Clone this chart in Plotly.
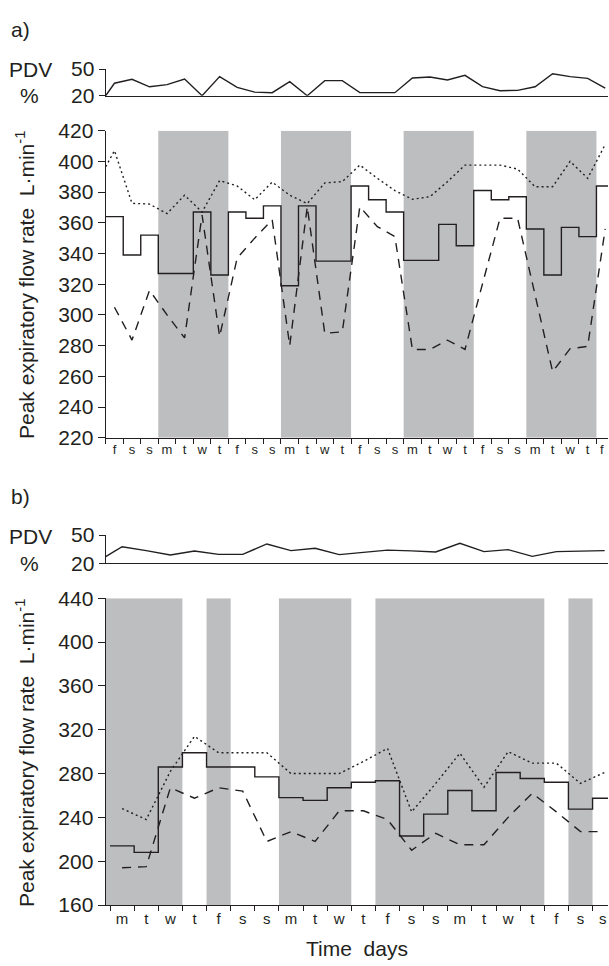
import plotly.graph_objects as go

# ---------------- DATA ----------------
# Panel a
a_days = ['f', 's', 's', 'm', 't', 'w', 't'] * 4 + ['f']
a_mean = [364, 339, 352, 327, 327, 367, 326, 367, 363, 371, 319, 371, 335, 335, 384,
          375, 367, 335.5, 335.5, 359, 345, 381, 375, 377, 356, 326, 357, 351, 384]
a_max = [407, 372.7, 372.2, 366, 378, 367, 387.5, 384, 375, 386.5, 378, 372.5, 386, 386.8, 397.6,
         389, 381, 375.3, 377, 386.8, 397.6, 397.6, 397.6, 395, 383.5, 383.5, 400, 389, 411]
a_max_edge = 396.5
a_min = [305, 283.6, 316, 300, 285, 365, 286, 337, 350, 362, 280, 370.5, 288, 289, 370.5,
         357.5, 351, 277.5, 277.5, 283.5, 277.5, 321, 363, 363, 313, 263, 278, 279.5, 356]
a_pdv = [34, 38.4, 30, 32.5, 38.7, 20, 41.4, 29.4, 24, 23.4, 35.7, 20, 36.9, 36.9, 23.4,
         23.4, 23.4, 39.9, 41, 37.6, 42.9, 30.1, 25.6, 26, 30, 44.7, 41.4, 39.5, 28.6]
a_pdv_edge = 20
a_shade = [(3, 7), (10, 14), (17, 21), (24, 28)]
a_xrange = [0, 28.66]
a_yticks = list(range(220, 421, 20))

# Panel b
b_days = ['m', 't', 'w', 't', 'f', 's', 's'] * 3
b_mean = [214, 208, 286, 299, 286, 286, 277, 258, 255.5, 267, 272, 273.5, 223, 243, 264.5,
          246, 281, 275.5, 272, 247.5, 257.5]
b_max = [248, 238, 282, 314, 299, 299, 299, 280, 280, 280, 291, 303, 245, 271, 298.5,
         267.5, 300, 289.5, 289.5, 271, 281]
b_min = [194, 195, 267, 257.5, 267, 264, 218, 227, 218, 246, 246, 238, 210, 225.5, 215,
         215, 240, 262, 245, 227, 227]
b_pdv = [37.6, 33.4, 28.8, 33, 29.5, 29.5, 40.5, 33.4, 36, 29.2, 31.7, 34, 33.2, 32, 41.2,
         32.4, 34.5, 27.4, 32.4, 32.7, 33.4]
b_pdv_edge = 27
b_xrange = [-0.18, 20.64]
b_shade = [(b_xrange[0], 3), (4, 5), (7, 10), (11, 18), (19, 20)]
b_yticks = list(range(160, 441, 40))

pdv_ticks = [20, 50]

# ---------------- STYLE ----------------
W, H = 609, 966
INK = '#231f20'
GRAY = '#bdbec0'
FONT = 'Liberation Sans, Arial, Helvetica, sans-serif'
LW = 1.4


def px_x(p):
    return p / W


def px_y(p):
    return 1 - p / H


xdom = [px_x(105.7), px_x(608)]

fig = go.Figure()


def add_panel(days, mean, vmax, vmin, pdv, pdv_edge, xr, suffix_main, suffix_pdv,
              max_edge=None):
    n = len(days)
    centers = [k + 0.5 for k in range(n)]
    xa = 'x' + suffix_main
    ya = 'y' + suffix_main
    xp = 'x' + suffix_pdv
    yp = 'y' + suffix_pdv
    fig.add_trace(go.Scatter(x=list(range(n + 1)), y=mean + [mean[-1]], mode='lines',
                             line=dict(color=INK, width=LW, shape='hv'),
                             xaxis=xa, yaxis=ya, showlegend=False, hoverinfo='skip'))
    mx_x = centers
    mx_y = vmax
    if max_edge is not None:
        mx_x = [xr[0]] + centers
        mx_y = [max_edge] + vmax
    fig.add_trace(go.Scatter(x=mx_x, y=mx_y, mode='lines',
                             line=dict(color=INK, width=LW, dash='2px,3px'),
                             xaxis=xa, yaxis=ya, showlegend=False, hoverinfo='skip'))
    fig.add_trace(go.Scatter(x=centers, y=vmin, mode='lines',
                             line=dict(color=INK, width=LW, dash='9px,7px'),
                             xaxis=xa, yaxis=ya, showlegend=False, hoverinfo='skip'))
    fig.add_trace(go.Scatter(x=[xr[0]] + centers, y=[pdv_edge] + pdv, mode='lines',
                             line=dict(color=INK, width=LW),
                             xaxis=xp, yaxis=yp, showlegend=False, hoverinfo='skip'))


add_panel(a_days, a_mean, a_max, a_min, a_pdv, a_pdv_edge, a_xrange, '', '2', max_edge=a_max_edge)
add_panel(b_days, b_mean, b_max, b_min, b_pdv, b_pdv_edge, b_xrange, '3', '4')

shapes = []
for x0, x1 in a_shade:
    shapes.append(dict(type='rect', xref='x', yref='y', x0=x0, x1=x1,
                       y0=a_yticks[0], y1=a_yticks[-1], fillcolor=GRAY, line_width=0, layer='below'))
for x0, x1 in b_shade:
    shapes.append(dict(type='rect', xref='x3', yref='y3', x0=x0, x1=x1,
                       y0=b_yticks[0], y1=b_yticks[-1], fillcolor=GRAY, line_width=0, layer='below'))

axis_common = dict(showgrid=False, zeroline=False, showline=True, linecolor=INK, linewidth=1.3,
                   tickcolor=INK, tickwidth=1.2, fixedrange=True, automargin=False)


def day_xaxis(days, xr, dom, anchor, size, edge_pad):
    n = len(days)
    label_pos = [min(k + 0.5, xr[1] - edge_pad) for k in range(n)]
    return dict(axis_common, domain=dom, range=xr, anchor=anchor,
                tickmode='array', tickvals=label_pos, ticktext=days,
                ticks='', tickfont=dict(family=FONT, size=size, color=INK),
                minor=dict(tickmode='array', tickvals=list(range(n)), ticks='outside',
                           ticklen=5, tickcolor=INK, tickwidth=1.2))


def val_yaxis(ticks, dom, anchor, ticklen=7):
    return dict(axis_common, domain=dom, range=[ticks[0], ticks[-1]], anchor=anchor,
                tickmode='array', tickvals=ticks, ticks='outside', ticklen=ticklen,
                tickfont=dict(family=FONT, size=21, color=INK))


def pdv_xaxis(xr, dom, anchor):
    return dict(axis_common, domain=dom, range=xr, anchor=anchor, showticklabels=False, ticks='')


fig.update_layout(
    template='none',
    width=W, height=H, margin=dict(l=0, r=0, t=0, b=0, pad=0, autoexpand=False),
    paper_bgcolor='white', plot_bgcolor='rgba(0,0,0,0)',
    font=dict(family=FONT, color=INK),
    xaxis=day_xaxis(a_days, a_xrange, xdom, 'y', 13, 0.35),
    yaxis=val_yaxis(a_yticks, [px_y(437.7), px_y(130.7)], 'x'),
    xaxis2=pdv_xaxis(a_xrange, xdom, 'y2'),
    yaxis2=val_yaxis(pdv_ticks, [px_y(95.7), px_y(69)], 'x2', ticklen=6),
    xaxis3=day_xaxis(b_days, b_xrange, xdom, 'y3', 15, 0.22),
    yaxis3=val_yaxis(b_yticks, [px_y(905), px_y(598.3)], 'x3'),
    xaxis4=pdv_xaxis(b_xrange, xdom, 'y4'),
    yaxis4=val_yaxis(pdv_ticks, [px_y(563.3), px_y(535)], 'x4', ticklen=6),
    shapes=shapes,
)

ann = []


def txt(text, x, y, size=21, angle=0, xanchor='center'):
    ann.append(dict(text=text, x=px_x(x), y=px_y(y), xref='paper', yref='paper',
                    showarrow=False, xanchor=xanchor, yanchor='middle', textangle=angle,
                    font=dict(family=FONT, size=size, color=INK)))


ylab = 'Peak expiratory flow rate  L·min<sup>-1</sup>'
txt('a)', 9, 30, xanchor='left')
txt('PDV', 30, 70)
txt('%', 29, 96)
txt(ylab, 25, 285, angle=-90)
txt('b)', 9, 496, xanchor='left')
txt('PDV', 30, 536)
txt('%', 29, 563)
txt(ylab, 25, 753, angle=-90)
txt('Time  days', 357, 948)
fig.update_layout(annotations=ann)

fig.write_html('out.html', config={'displayModeBar': False},
               post_script="document.body.style.margin='0';document.body.style.overflow='hidden';")
